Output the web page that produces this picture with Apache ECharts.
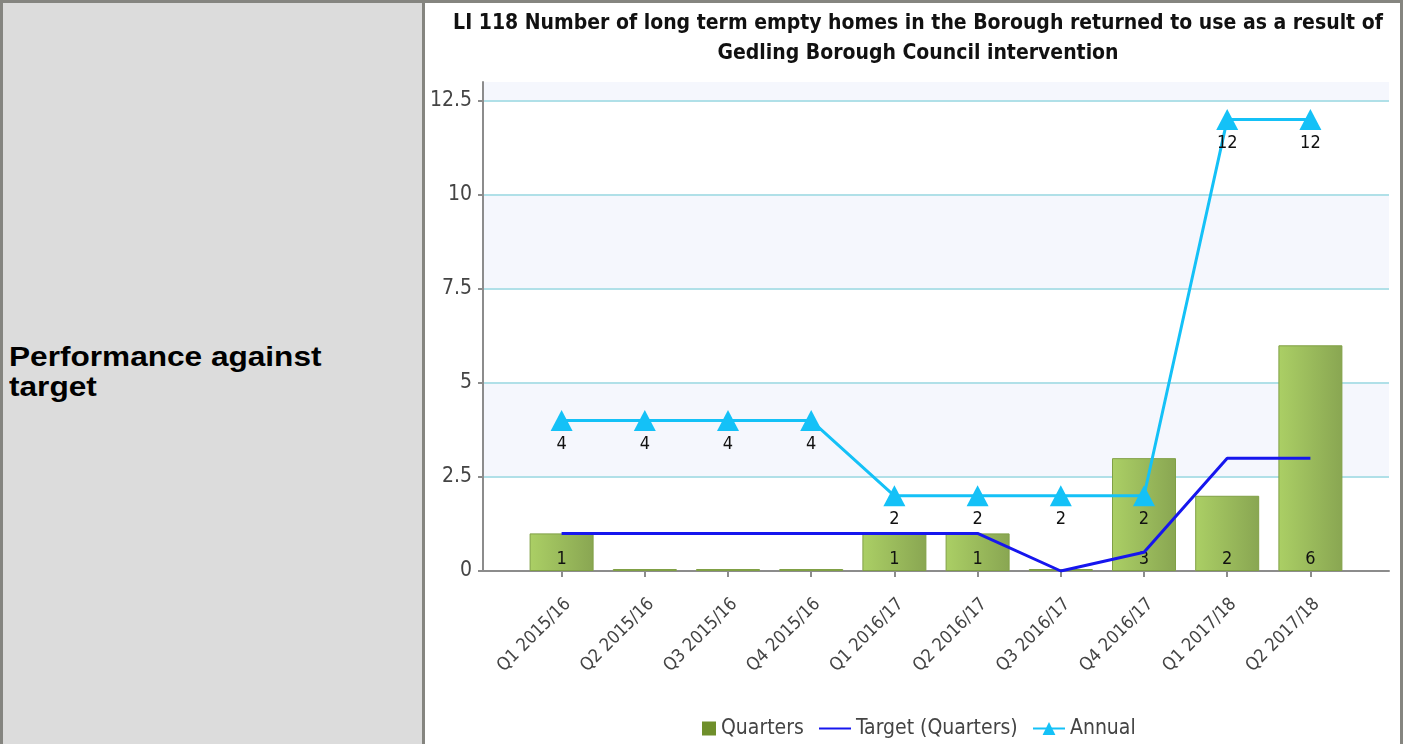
<!DOCTYPE html>
<html>
<head>
<meta charset="utf-8">
<script src="https://cdn.jsdelivr.net/npm/echarts@6/dist/echarts.min.js"></script>
<style>
  html, body { margin: 0; padding: 0; background: #fff; }
  #frame { position: absolute; left: 0; top: 0; width: 1403px; height: 744px; overflow: hidden; }
  #leftCell {
    position: absolute; left: 0; top: 0; width: 419px; height: 744px;
    background: #dcdcdc;
    border-left: 3px solid #858580; border-top: 3px solid #858580; border-right: 3px solid #858580;
  }
  #leftCell .lbl {
    position: absolute; left: 6px; top: 339px; width: 300px;
    font-family: "Liberation Sans", Arial, sans-serif; font-weight: bold;
    font-size: 27px; line-height: 30px; color: #000;
    transform: scaleX(1.17); transform-origin: 0 0;
  }
  #rightCell {
    position: absolute; left: 425px; top: 0; width: 975px; height: 744px;
    border-top: 3px solid #858580; border-right: 3px solid #858580;
  }
  #chart { position: absolute; left: 0; top: 0; width: 1403px; height: 744px; }
</style>
</head>
<body>
<div id="frame">
  <div id="leftCell"><div class="lbl">Performance against target</div></div>
  <div id="rightCell"></div>
  <div id="chart"></div>
</div>
<script>
// chart data
var categories = ['Q1 2015/16', 'Q2 2015/16', 'Q3 2015/16', 'Q4 2015/16', 'Q1 2016/17',
                  'Q2 2016/17', 'Q3 2016/17', 'Q4 2016/17', 'Q1 2017/18', 'Q2 2017/18'];
var quarters = [1, 0, 0, 0, 1, 1, 0, 3, 2, 6];
var targetQuarters = [1, 1, 1, 1, 1, 1, 0, 0.5, 3, 3];
var annual = [4, 4, 4, 4, 2, 2, 2, 2, 12, 12];

var FONT = '"DejaVu Sans Condensed", "DejaVu Sans", sans-serif';

var chart = echarts.init(document.getElementById('chart'), null, { renderer: 'canvas' });

var legendText = { fontFamily: FONT, fontSize: 21, color: '#444' };

var option = {
  backgroundColor: 'transparent',
  animation: false,
  title: {
    text: 'LI 118 Number of long term empty homes in the Borough returned to use as a result of\nGedling Borough Council intervention',
    left: 913,
    textAlign: 'center',
    top: 4,
    textStyle: {
      fontFamily: FONT, fontWeight: 'bold', fontSize: 21, lineHeight: 30, color: '#111'
    }
  },
  legend: [{
    data: [{ name: 'Quarters', itemStyle: { color: '#6f8f2b', borderWidth: 0 } }],
    left: 697, top: 713,
    icon: 'rect',
    itemWidth: 14, itemHeight: 14,
    textStyle: legendText
  }, {
    data: [{ name: 'Target (Quarters)', icon: 'rect', itemStyle: { color: '#1616ee' } }],
    left: 814, top: 713,
    itemWidth: 32, itemHeight: 2,
    textStyle: legendText
  }, {
    data: ['Annual'],
    left: 1027, top: 713,
    itemWidth: 32, itemHeight: 16,
    textStyle: legendText
  }],
  grid: [
    // background plot area with banding and grid lines
    { left: 483, right: 14, top: 82, bottom: 173, containLabel: false },
    // data area, inset so categories sit where the reference puts them
    { left: 520, right: 51, top: 82, bottom: 173, containLabel: false }
  ],
  xAxis: [{
    gridIndex: 0, type: 'value', min: 0, max: 1,
    axisLine: { show: true, onZero: false, lineStyle: { color: '#8c8c8c', width: 2 } },
    axisTick: { show: false }, axisLabel: { show: false }, splitLine: { show: false }
  }, {
    gridIndex: 1, type: 'category', data: categories,
    axisLine: { show: false },
    axisTick: { show: true, alignWithLabel: true, length: 6, lineStyle: { color: '#8c8c8c', width: 2 } },
    axisLabel: {
      rotate: 45, margin: 24, interval: 0, verticalAlign: 'top',
      fontFamily: FONT, fontSize: 18, color: '#444'
    }
  }],
  yAxis: [{
    gridIndex: 0, type: 'value', min: 0, max: 13, interval: 2.5,
    axisLine: { show: true, lineStyle: { color: '#8c8c8c', width: 2 } },
    axisTick: { show: true, length: 5, lineStyle: { color: '#8c8c8c', width: 2 } },
    axisLabel: {
      showMaxLabel: false, margin: 11,
      fontFamily: FONT, fontSize: 21, color: '#444'
    },
    splitLine: { show: true, showMaxLine: false, lineStyle: { color: '#b0e0e8', width: 2 } },
    splitArea: { show: true, areaStyle: { color: ['#ffffff', '#f5f7fd'] } }
  }, {
    gridIndex: 1, type: 'value', min: 0, max: 13, interval: 2.5,
    show: false, splitLine: { show: false }
  }],
  series: [{
    name: 'Quarters', type: 'bar',
    xAxisIndex: 1, yAxisIndex: 1,
    data: quarters,
    barWidth: 64, barMinHeight: 2,
    itemStyle: {
      color: new echarts.graphic.LinearGradient(0, 0, 1, 0, [
        { offset: 0, color: '#abcf65' },
        { offset: 1, color: '#89a652' }
      ]),
      borderColor: '#80a045', borderWidth: 1
    },
    label: {
      show: true, position: 'insideBottom', distance: 3,
      fontFamily: FONT, fontSize: 18, color: '#111',
      formatter: function (p) { return p.value === 0 ? '' : String(p.value); }
    },
    z: 2
  }, {
    name: 'Target (Quarters)', type: 'line',
    xAxisIndex: 1, yAxisIndex: 1,
    data: targetQuarters,
    symbol: 'none',
    lineStyle: { color: '#1616ee', width: 3 },
    itemStyle: { color: '#1616ee' },
    z: 3
  }, {
    name: 'Annual', type: 'line',
    xAxisIndex: 1, yAxisIndex: 1,
    data: annual,
    symbol: 'triangle', symbolSize: [22, 21],
    lineStyle: { color: '#14c1f7', width: 3 },
    itemStyle: { color: '#14c1f7' },
    label: {
      show: true, position: 'bottom', distance: 4,
      fontFamily: FONT, fontSize: 18, color: '#111'
    },
    z: 4
  }]
};

chart.setOption(option);
</script>
</body>
</html>
